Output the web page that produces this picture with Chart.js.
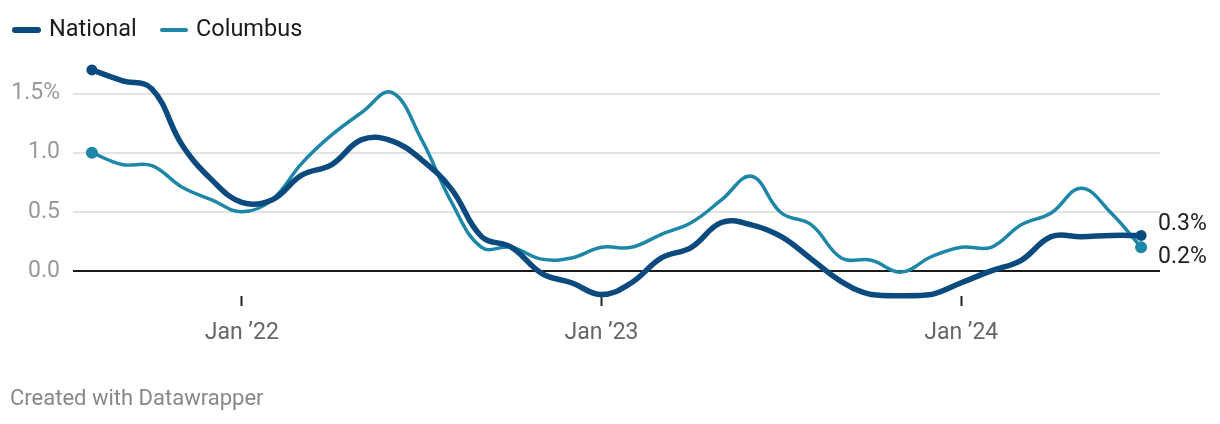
<!DOCTYPE html>
<html lang="en">
<head>
    <meta charset="UTF-8">
    <script src="https://cdn.jsdelivr.net/npm/chart.js"></script>
    <title>National vs Columbus</title>
    <style>
        html, body { margin: 0; padding: 0; background: #fff; }
        .wrap { position: relative; width: 1220px; height: 424px; }
    </style>
</head>
<body>
    <div class="wrap">
        <canvas id="myChart" width="1220" height="424"></canvas>
    </div>

<script>
    // months Aug 2021 .. Jul 2024
    const meses = ['Aug 21', 'Sep 21', 'Oct 21', 'Nov 21', 'Dec 21',
        'Jan 22', 'Feb 22', 'Mar 22', 'Apr 22', 'May 22', 'Jun 22', 'Jul 22', 'Aug 22', 'Sep 22', 'Oct 22', 'Nov 22', 'Dec 22',
        'Jan 23', 'Feb 23', 'Mar 23', 'Apr 23', 'May 23', 'Jun 23', 'Jul 23', 'Aug 23', 'Sep 23', 'Oct 23', 'Nov 23', 'Dec 23',
        'Jan 24', 'Feb 24', 'Mar 24', 'Apr 24', 'May 24', 'Jun 24', 'Jul 24'];

    const national = [1.70, 1.61, 1.54, 1.07, 0.77, 0.58, 0.60, 0.81, 0.90, 1.11, 1.10, 0.94,
        0.69, 0.29, 0.20, -0.02, -0.10, -0.20, -0.10, 0.11, 0.20, 0.41, 0.39, 0.29,
        0.10, -0.09, -0.20, -0.21, -0.20, -0.10, 0.00, 0.09, 0.29, 0.29, 0.30, 0.30];

    const columbus = [1.00, 0.90, 0.89, 0.71, 0.60, 0.50, 0.60, 0.91, 1.15, 1.34, 1.51, 1.11,
        0.58, 0.20, 0.20, 0.10, 0.11, 0.20, 0.20, 0.31, 0.41, 0.60, 0.80, 0.49,
        0.39, 0.11, 0.09, -0.01, 0.12, 0.20, 0.20, 0.39, 0.49, 0.70, 0.49, 0.20];

    const yTicks = [0, 0.5, 1.0, 1.5];
    const yTickLabels = ['0.0', '0.5', '1.0', '1.5%'];
    const xTicks = [5, 17, 29];
    const xTickLabels = ['Jan \u201922', 'Jan \u201923', 'Jan \u201924'];

    const corNational = '#0b4a7f';
    const corColumbus = '#1e86a6';

    function pontas(n, r) {
        return function (ctx) {
            return (ctx.dataIndex === 0 || ctx.dataIndex === n - 1) ? r : 0;
        };
    }

    // legenda, rodape e rotulos finais
    const extras = {
        id: 'extras',
        afterDraw(chart) {
            const c = chart.ctx;
            c.save();
            c.lineCap = 'round';
            c.textBaseline = 'middle';
            c.font = '23.5px Roboto';
            c.fillStyle = '#1a1a1a';

            c.strokeStyle = corNational; c.lineWidth = 6;
            c.beginPath(); c.moveTo(15, 30); c.lineTo(38, 30); c.stroke();
            c.fillText('National', 49, 30);

            c.strokeStyle = corColumbus; c.lineWidth = 4;
            c.beginPath(); c.moveTo(162, 30); c.lineTo(186, 30); c.stroke();
            c.fillText('Columbus', 196, 30);

            // end labels
            const m0 = chart.getDatasetMeta(0).data;
            const m1 = chart.getDatasetMeta(1).data;
            const p0 = m0[m0.length - 1], p1 = m1[m1.length - 1];
            const meio = (p0.y + p1.y) / 2;
            c.font = '23px Roboto';
            c.fillStyle = '#222';
            c.fillText((national[national.length - 1]).toFixed(1) + '%', p0.x + 17, meio - 17);
            c.fillText((columbus[columbus.length - 1]).toFixed(1) + '%', p1.x + 17, meio + 16);

            c.font = '22px Roboto';
            c.fillStyle = '#888';
            c.fillText('Created with Datawrapper', 10, 399);
            c.restore();
        }
    };

    const dados = {
        datasets: [{
            label: 'National',
            data: national.map((v, i) => ({ x: i, y: v })),
            borderColor: corNational,
            backgroundColor: corNational,
            borderWidth: 5.5,
            pointRadius: pontas(national.length, 5.5),
            pointBorderWidth: 0,
            tension: 0.4,
            clip: false
        }, {
            label: 'Columbus',
            data: columbus.map((v, i) => ({ x: i, y: v })),
            borderColor: corColumbus,
            backgroundColor: corColumbus,
            borderWidth: 3.5,
            pointRadius: pontas(columbus.length, 6),
            pointBorderWidth: 0,
            tension: 0.4,
            clip: false
        }]
    };

    const config = {
        type: 'line',
        data: dados,
        plugins: [extras],
        options: {
            responsive: false,
            animation: false,
            layout: { padding: { top: 64, right: 60, left: 0, bottom: 0 } },
            plugins: { legend: { display: false }, tooltip: { enabled: false } },
            scales: {
                x: {
                    type: 'linear',
                    min: -0.63,
                    max: 35.63,
                    afterBuildTicks: s => { s.ticks = xTicks.map(v => ({ value: v })); },
                    afterFit: s => { s.height = 128; },
                    border: { display: false },
                    grid: { drawOnChartArea: false, drawTicks: true, tickLength: 10, tickColor: '#222', tickWidth: 2 },
                    ticks: {
                        color: '#666',
                        font: { family: 'Roboto', size: 23 },
                        padding: 13,
                        maxRotation: 0,
                        callback: v => xTickLabels[xTicks.indexOf(v)]
                    }
                },
                y: {
                    min: -0.212,
                    max: 1.75,
                    afterBuildTicks: s => { s.ticks = yTicks.map(v => ({ value: v })); },
                    afterFit: s => { s.width = 73; },
                    border: { display: false },
                    grid: {
                        drawTicks: false,
                        color: c => c.tick && c.tick.value === 0 ? '#1a1a1a' : '#e3e3e3',
                        lineWidth: 2
                    },
                    ticks: {
                        color: '#9a9a9a',
                        font: { family: 'Roboto', size: 23 },
                        padding: 13,
                        callback: v => yTickLabels[yTicks.indexOf(v)]
                    }
                }
            }
        }
    };

    let myChart = new Chart(document.getElementById('myChart'), config);
</script>
</body>
</html>
